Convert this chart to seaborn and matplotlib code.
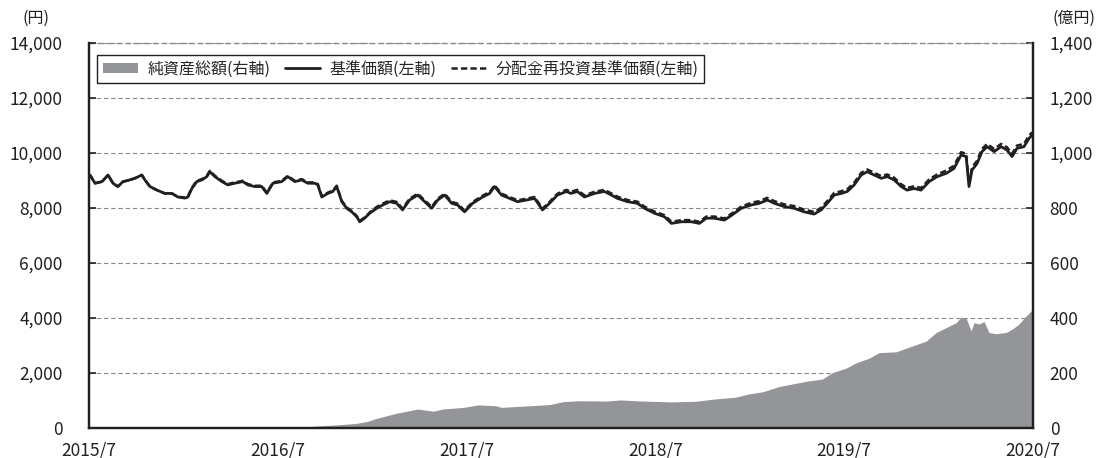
import matplotlib
matplotlib.use("Agg")
import matplotlib.pyplot as plt
import seaborn as sns
from matplotlib.patches import Patch
from matplotlib.lines import Line2D
from matplotlib.ticker import FuncFormatter

# decimal-year positions of the NAV readings
nav_t = [
    2015.505, 2015.532, 2015.569, 2015.601, 2015.627, 2015.653, 2015.680, 2015.706,
    2015.743, 2015.780, 2015.796, 2015.823, 2015.860, 2015.902, 2015.939, 2015.971,
    2016.008, 2016.024, 2016.045, 2016.071, 2016.098, 2016.124, 2016.140, 2016.167,
    2016.204, 2016.235, 2016.272, 2016.315, 2016.341, 2016.378, 2016.415, 2016.442,
    2016.474, 2016.521, 2016.553, 2016.590, 2016.627, 2016.659, 2016.696, 2016.712,
    2016.733, 2016.765, 2016.791, 2016.812, 2016.839, 2016.865, 2016.892, 2016.918,
    2016.934, 2016.960, 2016.987,
    2017.024, 2017.056, 2017.093, 2017.130, 2017.161, 2017.198, 2017.241, 2017.278,
    2017.315, 2017.347, 2017.384, 2017.421, 2017.452, 2017.489, 2017.532, 2017.585,
    2017.622, 2017.648, 2017.685, 2017.728, 2017.770, 2017.817, 2017.860, 2017.902,
    2017.939, 2017.981,
    2018.029, 2018.052, 2018.087, 2018.124, 2018.177, 2018.230, 2018.267, 2018.299,
    2018.352, 2018.405, 2018.442, 2018.495, 2018.548, 2018.585, 2018.638, 2018.690,
    2018.733, 2018.770, 2018.812, 2018.865, 2018.907, 2018.955,
    2019.008, 2019.050, 2019.093, 2019.130, 2019.183, 2019.235, 2019.288, 2019.341,
    2019.378, 2019.410, 2019.447, 2019.484, 2019.516, 2019.553, 2019.590, 2019.622,
    2019.659, 2019.696, 2019.728, 2019.765, 2019.802, 2019.833, 2019.870, 2019.907,
    2019.950, 2019.992,
    2020.040, 2020.082, 2020.119, 2020.146, 2020.161, 2020.177, 2020.204, 2020.230,
    2020.257, 2020.294, 2020.331, 2020.362, 2020.389, 2020.415, 2020.452, 2020.479,
    2020.495,
]

# 基準価額 (円)
nav = [
    9200, 8900, 8960, 9200, 8900, 8780, 8960, 9000, 9080, 9200, 9020, 8780, 8650, 8530, 8530, 8400,
    8360, 8400, 8710, 8960, 9020, 9140, 9320, 9140, 8960, 8840, 8900, 8960, 8840, 8780, 8780, 8530,
    8900, 8960, 9140, 8960, 9020, 8900, 8900, 8840, 8400, 8530, 8600, 8780, 8230, 7990, 7860, 7680,
    7500, 7630, 7810,
    7990, 8110, 8230, 8170, 7930, 8290, 8470, 8230, 7990, 8290, 8470, 8170, 8110, 7860, 8170, 8400,
    8530, 8780, 8470, 8350, 8230, 8290, 8350, 7930, 8170, 8470,
    8600, 8530, 8600, 8400, 8530, 8600, 8470, 8350, 8230, 8170, 7990, 7810, 7680, 7440, 7500, 7500,
    7440, 7630, 7630, 7560, 7750, 7990,
    8110, 8170, 8290, 8170, 8050, 7990, 7860, 7780, 7930, 8170, 8470, 8530, 8600, 8840, 9200, 9320,
    9200, 9080, 9140, 9020, 8780, 8650, 8710, 8650, 8960, 9140,
    9260, 9440, 9930, 9870, 8780, 9380, 9620, 10050, 10230, 10050, 10230, 10110, 9870, 10170, 10230, 10530,
    10650,
]

# 分配金再投資基準価額 (円)
nav_reinv = [
    9200, 8900, 8960, 9200, 8900, 8780, 8960, 9000, 9080, 9200, 9020, 8780, 8650, 8530, 8530, 8400,
    8390, 8430, 8740, 8990, 9050, 9170, 9350, 9170, 8990, 8870, 8930, 8990, 8870, 8810, 8810, 8560,
    8930, 8990, 9170, 8990, 9050, 8930, 8930, 8870, 8430, 8560, 8630, 8810, 8260, 8020, 7890, 7710,
    7530, 7660, 7840,
    8040, 8160, 8280, 8220, 7980, 8340, 8520, 8280, 8040, 8340, 8520, 8220, 8160, 7910, 8220, 8450,
    8580, 8830, 8520, 8400, 8280, 8340, 8400, 7980, 8220, 8520,
    8660, 8590, 8660, 8460, 8590, 8660, 8530, 8410, 8290, 8230, 8050, 7870, 7740, 7500, 7560, 7560,
    7500, 7690, 7690, 7620, 7810, 8050,
    8190, 8250, 8370, 8250, 8130, 8070, 7940, 7860, 8010, 8250, 8550, 8610, 8680, 8920, 9280, 9400,
    9280, 9160, 9220, 9100, 8860, 8730, 8790, 8730, 9040, 9220,
    9360, 9540, 10030, 9970, 8880, 9480, 9720, 10150, 10330, 10150, 10330, 10210, 9970, 10270, 10330, 10630,
    10750,
]

# 純資産総額 (億円)
aum_t = [
    2015.500, 2016.563, 2016.616, 2016.728, 2016.828, 2016.918, 2016.976, 2017.013,
    2017.124, 2017.241, 2017.325, 2017.373, 2017.484, 2017.563, 2017.653, 2017.685,
    2017.786, 2017.939, 2018.013, 2018.093, 2018.241, 2018.315, 2018.431, 2018.579,
    2018.712, 2018.807, 2018.923, 2018.997, 2019.071, 2019.151, 2019.225, 2019.299,
    2019.384, 2019.437, 2019.511, 2019.563, 2019.632, 2019.685, 2019.775, 2019.860,
    2019.934, 2019.987, 2020.040, 2020.093, 2020.119, 2020.146, 2020.172, 2020.188,
    2020.214, 2020.241, 2020.267, 2020.304, 2020.357, 2020.389, 2020.426, 2020.463,
    2020.495,
]
aum = [
    0, 0, 2, 8, 12, 17, 24, 33,
    53, 69, 61, 69, 75, 84, 81, 75,
    79, 85, 96, 99, 98, 102, 98, 95,
    97, 105, 112, 124, 132, 150, 160, 170,
    178, 201, 218, 237, 254, 274, 277, 298,
    316, 347, 365, 383, 403, 399, 353, 383,
    378, 387, 347, 343, 347, 359, 378, 407,
    429,
]

x_ticks = [2015.5, 2016.5, 2017.5, 2018.5, 2019.5, 2020.5]
x_labels = ["2015/7", "2016/7", "2017/7", "2018/7", "2019/7", "2020/7"]
legend_labels = ["純資産総額(右軸)", "基準価額(左軸)", "分配金再投資基準価額(左軸)"]

sns.set_theme(style="white")
plt.rcParams["font.family"] = ["Noto Sans CJK JP", "DejaVu Sans"]

LINE = "#231f20"
AREA = "#939598"
GRID = "#8a8a8a"
FS = 12.5
GRID_DASH = (0, (4, 2.5))

fig = plt.figure(figsize=(10.99, 4.58), dpi=100)
ax = fig.add_axes([89 / 1099, 1 - 428 / 458, (1033 - 89) / 1099, (428 - 43) / 458])
ax2 = ax.twinx()
ax.set_zorder(2)
ax2.set_zorder(1)
ax.patch.set_visible(False)

# net assets area (right axis, behind)
ax2.fill_between(aum_t, aum, 0, color=AREA, linewidth=0, zorder=2)
ax2.set_ylim(0, 1400)
ax2.set_yticks(range(0, 1401, 200))
ax2.yaxis.set_major_formatter(FuncFormatter(lambda v, p: f"{int(v):,}"))
ax2.set_axisbelow(True)
ax2.grid(axis="y", color=GRID, linestyle=GRID_DASH, linewidth=0.8)
ax2.grid(axis="x", visible=False)
ax2.axhline(1400, color=GRID, linestyle=GRID_DASH, linewidth=1.0, clip_on=False, zorder=3)

# NAV lines (left axis, front)
sns.lineplot(x=nav_t, y=nav, ax=ax, color=LINE, linewidth=2.0)
sns.lineplot(x=nav_t, y=nav_reinv, ax=ax, color=LINE, linewidth=1.8)
ax.lines[-1].set_linestyle((0, (2.5, 1.3)))
ax.set_ylim(0, 14000)
ax.set_yticks(range(0, 14001, 2000))
ax.yaxis.set_major_formatter(FuncFormatter(lambda v, p: f"{int(v):,}"))
ax.set_xlim(2015.5, 2020.5)
ax.set_xticks(x_ticks)
ax.set_xticklabels(x_labels)
ax.grid(False)

for a in (ax, ax2):
    for side in ("left", "right", "bottom"):
        a.spines[side].set_color(LINE)
        a.spines[side].set_linewidth(1.6)
    a.spines["top"].set_visible(False)

ax.tick_params(axis="y", direction="in", length=5, width=1.2, color=LINE,
               labelsize=FS, pad=19, labelcolor=LINE)
ax.tick_params(axis="x", direction="in", length=5, width=1.4, color=LINE,
               labelsize=FS, pad=10, labelcolor=LINE)
ax2.tick_params(axis="y", direction="in", length=5, width=1.2, color=LINE,
                labelsize=FS, pad=12, labelcolor=LINE)

handles = [
    Patch(facecolor=AREA, edgecolor="none"),
    Line2D([], [], color=LINE, linewidth=2.0),
    Line2D([], [], color=LINE, linewidth=1.8, linestyle=(0, (2.5, 1.3))),
]
leg = ax.legend(handles, legend_labels, loc="upper left",
                bbox_to_anchor=(8 / 944, 1 - 12 / 385), borderaxespad=0,
                ncol=3, fontsize=11.5, frameon=True, fancybox=False,
                framealpha=1, edgecolor=LINE, handlelength=2.2,
                handleheight=0.6, handletextpad=0.6, columnspacing=0.9,
                borderpad=0.35)
leg.get_frame().set_linewidth(1.0)

fig.text(22 / 1099, 1 - 18 / 458, "(円)", fontsize=11.5, va="center", ha="left", color=LINE)
fig.text(1053 / 1099, 1 - 18 / 458, "(億円)", fontsize=11.5, va="center", ha="left", color=LINE)

fig.savefig("out.png", dpi=100)
